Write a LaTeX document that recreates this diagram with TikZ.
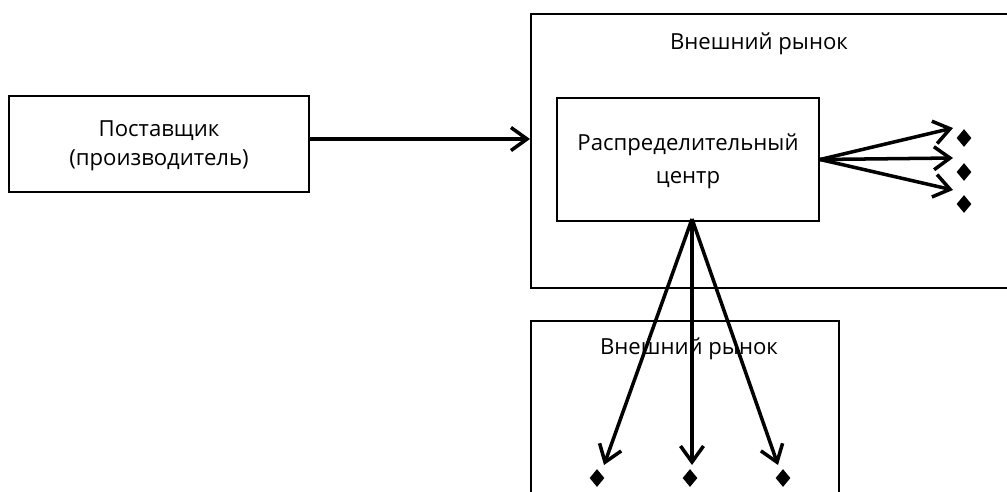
\documentclass[tikz,border=0pt]{standalone}
\usepackage{fontspec}
\setmainfont{Open Sans}
\usetikzlibrary{arrows.meta,shapes.geometric}

\tikzset{
  box/.style={draw, line width=1.2pt, inner sep=0pt},
  label/.style={align=center, font=\fontsize{12.6}{16.5}\selectfont},
  flow/.style={line width=2pt, -{Straight Barb[length=0.32cm,width=0.46cm]}},
  gem/.style={diamond, fill=black, inner sep=0pt, minimum width=0.3cm, minimum height=0.36cm}
}

\begin{document}
\begin{tikzpicture}[x=0.02cm, y=-0.02cm]
		\useasboundingbox (0,0) rectangle (1007,491);
		\clip (0,0) rectangle (1007,491);
		\node[box, minimum width=6cm, minimum height=1.92cm] (supplier) at (159,144) {};
		\node[label] (supplierlbl) at (159,146) {Поставщик\\(производитель)};
		\node[box, anchor=north west, minimum width=9.8cm, minimum height=5.48cm] (outer) at (530,13) {};
		\node[label] (outerlbl) at (759,44) {Внешний рынок};
		\node[box, minimum width=5.24cm, minimum height=2.46cm] (dc) at (688,159.5) {};
		\node[label, font=\fontsize{12.6}{18.8}\selectfont] (dclbl) at (688,161) {Распределительный\\центр};
		\node[box, anchor=north west, minimum width=6.16cm, minimum height=4cm] (lower) at (530,320) {};
		\node[label] (lowerlbl) at (689,349) {Внешний рынок};
		\coordinate (entry) at (530,139);
		\draw[flow] (supplier.east |- entry) -- (entry);
		% right fan
		\coordinate (t1) at (953,128);
		\coordinate (t2) at (953,158);
		\coordinate (t3) at (953,190);
		\node[gem] (d1) at (964,138) {};
		\node[gem] (d2) at (964,172) {};
		\node[gem] (d3) at (964,204) {};
		\draw[flow] (dc.east) -- (t1);
		\draw[flow] (dc.east) -- (t2);
		\draw[flow] (dc.east) -- (t3);
		% lower fan
		\coordinate (fork) at (692,219);
		\coordinate (t4) at (604,465);
		\coordinate (t5) at (692,465);
		\coordinate (t6) at (778,465);
		\node[gem] (d4) at (597,478) {};
		\node[gem] (d5) at (690,478) {};
		\node[gem] (d6) at (783,478) {};
		\draw[flow] (fork) -- (t4);
		\draw[flow] (fork) -- (t5);
		\draw[flow] (fork) -- (t6);
\end{tikzpicture}
\end{document}
